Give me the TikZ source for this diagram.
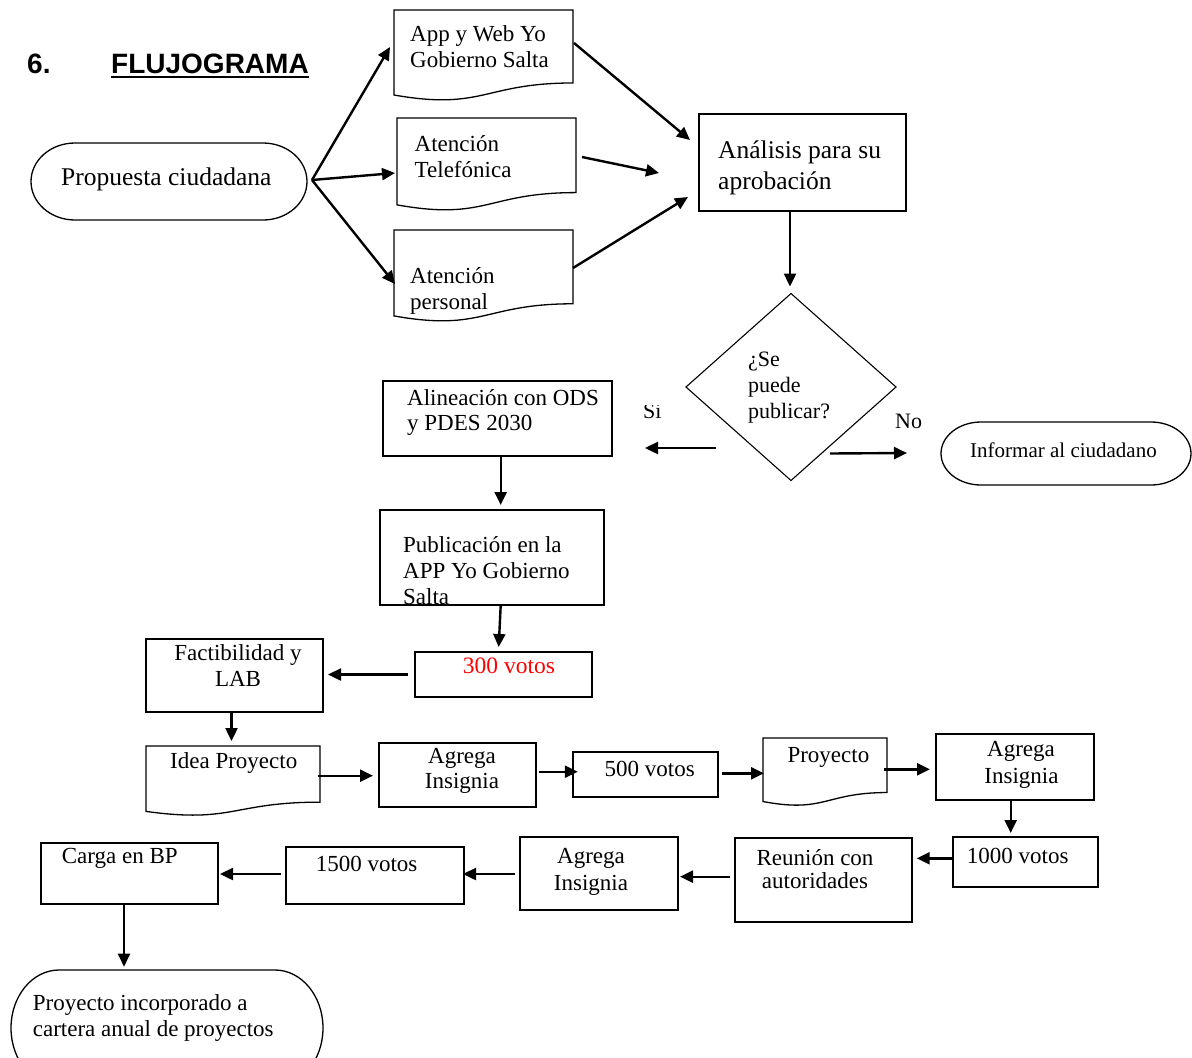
\documentclass[tikz,border=0pt]{standalone}
\usepackage{fontspec}
\setmainfont{Liberation Serif}
\setsansfont{Liberation Sans}
\usetikzlibrary{calc,arrows.meta}
\newcommand\docoutline[1]{\draw[outl] (#1.north west) -- (#1.north east) -- ($(#1.north east)!0.802!(#1.south east)$) .. controls ($(#1.north)!0.802!(#1.south)$) and ($(#1.north)!1.107!(#1.south)$) .. ($(#1.north west)!0.934!(#1.south west)$) -- cycle;}
\newcommand\termoutline[3]{\draw[outl] ([xshift=#2]#1.north west) -- ([xshift=-#2]#1.north east) arc[start angle=90, end angle=-90, x radius=#2, y radius=#3] -- ([xshift=#2]#1.south west) arc[start angle=270, end angle=90, x radius=#2, y radius=#3] -- cycle;}
\begin{document}
\begin{tikzpicture}[x=1pt,y=-1pt,
 bx/.style={draw, line width=1.3pt, inner sep=0pt, outer sep=0pt},
 hold/.style={inner sep=0pt, outer sep=0pt},
 outl/.style={line width=1.3pt},
 arr/.style={line width=2.4pt, -{Triangle[length=13pt,width=12pt]}},
 txt/.style={font=\fontsize{23}{26}\selectfont, inner sep=0pt, anchor=base west},
 ctxt/.style={txt, anchor=base},
 ttl/.style={font=\sffamily\bfseries\fontsize{28}{32}\selectfont, inner sep=0pt, anchor=base west}]
\useasboundingbox (0,0) rectangle (1192,1058);
\clip (0,0) rectangle (1192,1058);

% title
\node[ttl] (num) at (27,73) {6.};
\node[ttl] (title) at (111,73) {FLUJOGRAMA};
\draw[line width=2pt] ($(title.base west)+(0,4)$) -- ($(title.base east)+(0,4)$);

% shapes
\node[hold, minimum width=276pt, minimum height=77pt] (prop) at (169,181.5) {};
\termoutline{prop}{44pt}{38.5pt}
\node[hold, minimum width=179pt, minimum height=91pt] (app) at (483.5,55.5) {};
\docoutline{app}
\node[hold, minimum width=179pt, minimum height=93pt] (telef) at (486.5,164.5) {};
\docoutline{telef}
\node[hold, minimum width=179pt, minimum height=92pt] (pers) at (483.5,276) {};
\docoutline{pers}
\node[bx, minimum width=207pt, minimum height=97pt] (anal) at (802.5,162.5) {};
\node[hold, minimum width=210pt, minimum height=187pt] (dia) at (791,387) {};
\draw[line width=1.1pt] (dia.north) -- (dia.east) -- (dia.south) -- (dia.west) -- cycle;
\node[hold, minimum width=250pt, minimum height=63pt] (inf) at (1066,453.5) {};
\termoutline{inf}{40pt}{31.5pt}
\node[bx, minimum width=229pt, minimum height=75pt] (alin) at (497.5,418.5) {};
\node[bx, minimum width=224pt, minimum height=95pt] (pub) at (492,557.5) {};
\node[bx, minimum width=177pt, minimum height=45pt] (v300) at (503.5,674.5) {};
\node[bx, minimum width=177pt, minimum height=73pt] (fact) at (234.5,675.5) {};
\node[hold, minimum width=174pt, minimum height=70pt] (idea) at (233,781) {};
\docoutline{idea}
\node[bx, minimum width=157pt, minimum height=64pt] (ag1) at (457.5,775) {};
\node[bx, minimum width=145pt, minimum height=45pt] (v500) at (645.5,774.5) {};
\node[hold, minimum width=124pt, minimum height=68pt] (proy) at (825,772) {};
\docoutline{proy}
\node[bx, minimum width=158pt, minimum height=66pt] (ag2) at (1015,767) {};
\node[bx, minimum width=145pt, minimum height=50pt] (v1000) at (1025.5,862) {};
\node[bx, minimum width=177pt, minimum height=84pt] (reun) at (823.5,880) {};
\node[bx, minimum width=158pt, minimum height=73pt] (ag3) at (599,873.5) {};
\node[bx, minimum width=178pt, minimum height=57pt] (v1500) at (375,875.5) {};
\node[bx, minimum width=177pt, minimum height=61pt] (carga) at (129.5,873.5) {};
\node[hold, minimum width=312pt, minimum height=116pt] (fin) at (167,1028) {};
\termoutline{fin}{48pt}{58pt}

% texts
\node[txt, font=\fontsize{25.5}{30}\selectfont] (tprop) at (61,185) {Propuesta ciudadana};
\node[txt] (tapp1) at (410,41) {App y Web Yo};
\node[txt] (tapp2) at (410,67) {Gobierno Salta};
\node[txt] (ttel1) at (414.5,151) {Atención};
\node[txt] (ttel2) at (414.5,177) {Telefónica};
\node[txt] (tper1) at (410,283) {Atención};
\node[txt] (tper2) at (410,309) {personal};
\node[txt, font=\fontsize{25.5}{30}\selectfont] (tan1) at (718,158) {Análisis para su};
\node[txt, font=\fontsize{25.5}{30}\selectfont] (tan2) at (718,189) {aprobación};
\node[txt, font=\fontsize{22}{26}\selectfont] (tdi1) at (748,366) {¿Se};
\node[txt, font=\fontsize{22}{26}\selectfont] (tdi2) at (748,392) {puede};
\node[txt, font=\fontsize{22}{26}\selectfont] (tdi3) at (748,418) {publicar?};
\begin{scope}
\clip (635,405) rectangle (680,430);
\node[txt, font=\fontsize{22}{26}\selectfont] (tsi) at (643,418) {Si};
\end{scope}
\node[txt, font=\fontsize{22}{26}\selectfont] (tno) at (895,428) {No};
\node[txt, font=\fontsize{21}{26}\selectfont] (tinf) at (970,457) {Informar al ciudadano};
\node[txt] (tal1) at (407,405) {Alineación con ODS};
\node[txt] (tal2) at (407,430) {y PDES 2030};
\node[txt] (tpu1) at (403,552) {Publicación en la};
\node[txt] (tpu2) at (403,578) {APP Yo Gobierno};
\node[txt] (tpu3) at (403,604) {Salta};
\node[txt, text=red, font=\fontsize{23.5}{26}\selectfont] (t300) at (462.7,673) {300 votos};
\node[ctxt] (tfa1) at (238,660) {Factibilidad y};
\node[ctxt] (tfa2) at (238,686) {LAB};
\node[txt] (tidea) at (170,768) {Idea Proyecto};
\node[ctxt] (tag11) at (462,763) {Agrega};
\node[ctxt] (tag12) at (462,788) {Insignia};
\node[txt] (t500) at (604.5,776) {500 votos};
\node[txt] (tproy) at (787.3,762.7) {Proyecto};
\node[ctxt] (tag21) at (1021,756.7) {Agrega};
\node[ctxt] (tag22) at (1021.5,783.3) {Insignia};
\node[txt] (t1000) at (966.7,863.3) {1000 votos};
\node[ctxt] (tre1) at (815,865) {Reunión con};
\node[ctxt] (tre2) at (815,888.3) {autoridades};
\node[ctxt] (tag31) at (591,863.3) {Agrega};
\node[ctxt] (tag32) at (591,890) {Insignia};
\node[txt] (t1500) at (315.6,871.7) {1500 votos};
\node[txt] (tcarga) at (61.7,863.3) {Carga en BP};
\node[txt] (tfin1) at (32.7,1010) {Proyecto incorporado a};
\node[txt] (tfin2) at (32.7,1036.7) {cartera anual de proyectos};

% connectors
\coordinate (pfork) at (312,180);
\draw[arr] (pfork) -- ($(app.west)+(-4,-8.5)$);
\draw[arr] (pfork) -- ($(telef.west)+(-2,8.5)$);
\draw[arr] (pfork) -- ($(pers.west)+(1,8)$);
\draw[arr] ($(app.east)+(1,-12.5)$) -- ($(anal.west)+(-9,-22.5)$);
\draw[arr] ($(telef.east)+(6,-7.5)$) -- ($(anal.west)+(-40,10.5)$);
\draw[arr] ($(pers.east)+(0,-8)$) -- ($(anal.west)+(-11,34.5)$);
\draw[arr] ($(anal.south)+(-12.5,0)$) -- ($(dia.north)+(-1,-7)$);
\draw[arr] ($(dia.west)+(30,61)$) -- ($(alin.east)+(33,29.5)$);
\draw[arr] ($(dia.south)+(39,-27)$) -- ($(inf.west)+(-34,-0.5)$);
\draw[arr] ($(alin.south)+(3.2,0)$) -- ($(pub.north)+(8.7,-5)$);
\draw[arr] ($(pub.south)+(8.7,0)$) -- ($(v300.north)+(-4.8,-5)$);
\draw[arr] ($(v300.west)+(-7,0)$) -- ($(fact.east)+(5,-1)$);
\draw[arr] ($(fact.south)+(-3,0)$) -- ($(idea.north)+(-1.5,-5)$);
\draw[arr] ($(idea.east)+(-2.5,-5.3)$) -- ($(ag1.west)+(-6,0.7)$);
\draw[arr] ($(ag1.east)+(2.7,-3.3)$) -- ($(v500.west)+(4.8,-2.8)$);
\draw[arr] ($(v500.east)+(3.7,-1.2)$) -- ($(proy.west)+(1,1.3)$);
\draw[arr] ($(proy.east)+(-3,-2.7)$) -- ($(ag2.west)+(-6,2.3)$);
\draw[arr] ($(ag2.south)+(-4.3,0)$) -- ($(v1000.north)+(-14.8,-4)$);
\draw[arr] ($(v1000.west)+(0,-3.7)$) -- ($(reun.east)+(4.7,-21.7)$);
\draw[arr] ($(reun.west)+(-5,-3.3)$) -- ($(ag3.east)+(2,3.2)$);
\draw[arr] ($(ag3.west)+(-5,0.5)$) -- ($(v1500.east)+(-1,-1.5)$);
\draw[arr] ($(v1500.west)+(-5,-1.5)$) -- ($(carga.east)+(2,0.5)$);
\draw[arr] ($(carga.south)+(-5.5,0)$) -- ($(fin.north)+(-43,-3.3)$);
\end{tikzpicture}
\end{document}
